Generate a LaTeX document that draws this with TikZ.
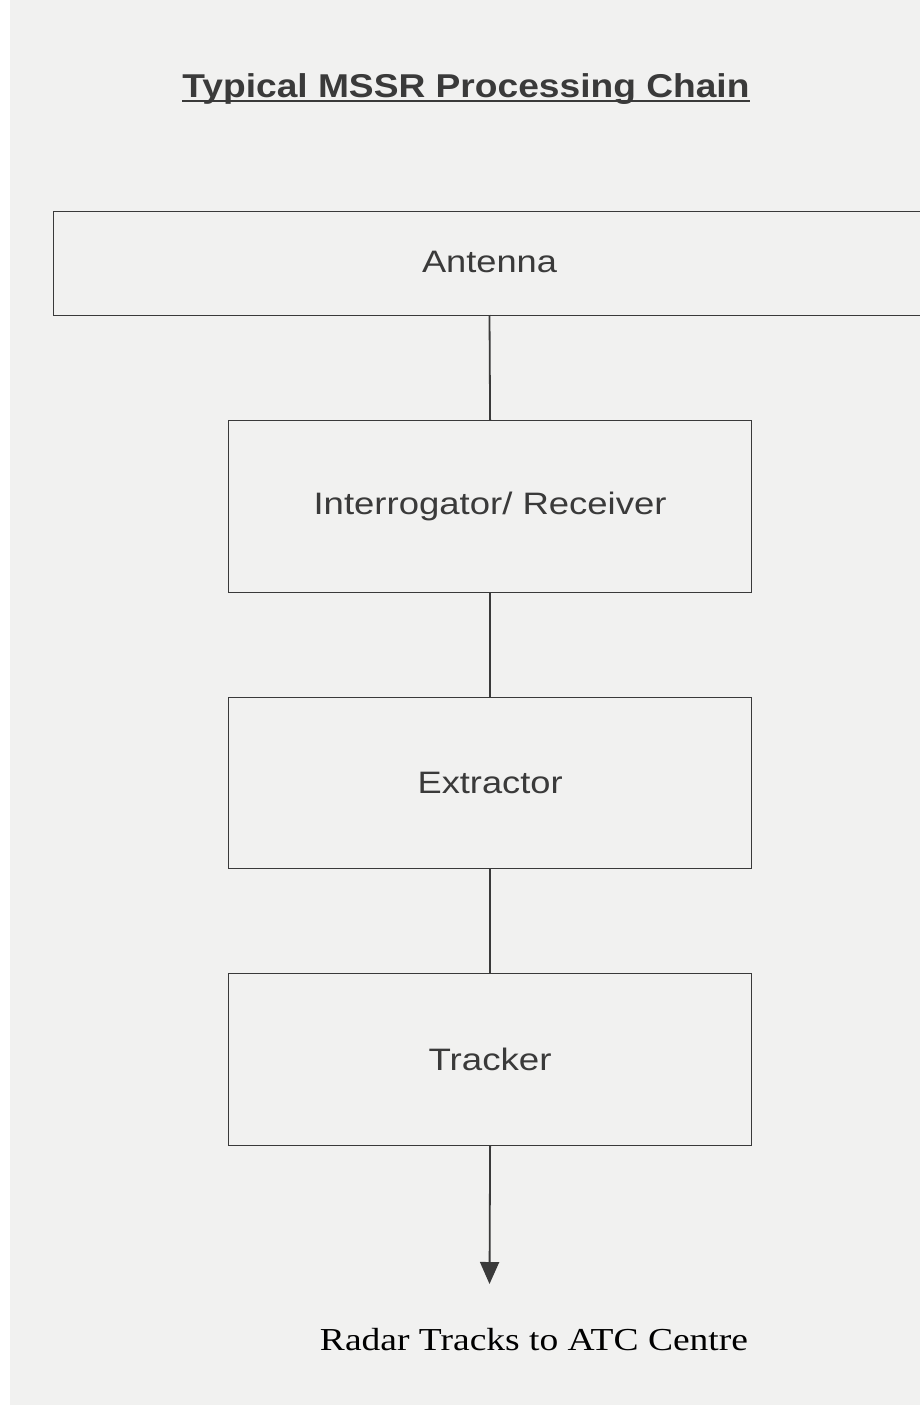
\documentclass[tikz,border=0pt]{standalone}
\usepackage{fontspec}
\setmainfont{Liberation Sans}
\newfontfamily\serifrm{Liberation Serif}
\usetikzlibrary{arrows.meta}
\definecolor{paper}{HTML}{F1F1F0}
\definecolor{ink}{HTML}{3A3A3A}
\newcommand{\stxt}[2]{\resizebox{#1}{\height}{\fontsize{31}{34}\selectfont #2}}
\tikzset{
  stage/.style={draw=ink, line width=1.2pt, inner sep=0pt, text=ink},
  link/.style={draw=ink, line width=1.8pt},
}
\begin{document}
\begin{tikzpicture}[x=1pt,y=-1pt]
\useasboundingbox (0,0) rectangle (920,1405);
\fill[paper] (0,0) rectangle (920,1405);
\fill[white] (0,0) rectangle (10,1405);
\node[text=ink, anchor=base, inner sep=0pt] (title) at (466,97) {\resizebox{567pt}{\height}{\fontsize{33}{36}\selectfont\bfseries Typical MSSR Processing Chain}};
\draw[ink, line width=1.8pt] (title.base west) ++(0,4) coordinate (ul1) -- (title.base east |- ul1);
\node[stage, minimum width=880pt, minimum height=104pt, anchor=north west] (ant) at (53,211) {};
\node[text=ink] (antl) at (489.5,262) {\stxt{135pt}{Antenna}};
\node[stage, minimum width=523pt, minimum height=172pt, anchor=north west] (irx) at (228,420) {\stxt{353pt}{Interrogator/ Receiver}};
\node[stage, minimum width=523pt, minimum height=171pt, anchor=north west] (ext) at (228,697) {\stxt{145pt}{Extractor}};
\node[stage, minimum width=523pt, minimum height=172pt, anchor=north west] (trk) at (228,973) {\stxt{123pt}{Tracker}};
\coordinate (antb) at (489.5,315);
\coordinate (out) at (489.5,1284);
\draw[link] (antb) -- (irx.north);
\draw[link] (irx.south) -- (ext.north);
\draw[link] (ext.south) -- (trk.north);
\draw[link, -{Triangle[length=22pt,width=19pt]}, fill=ink] (trk.south) -- (out);
\node[text=black, anchor=base] (atc) at (534,1350) {\resizebox{428pt}{\height}{\serifrm\fontsize{32}{36}\selectfont Radar Tracks to ATC Centre}};
\end{tikzpicture}
\end{document}
